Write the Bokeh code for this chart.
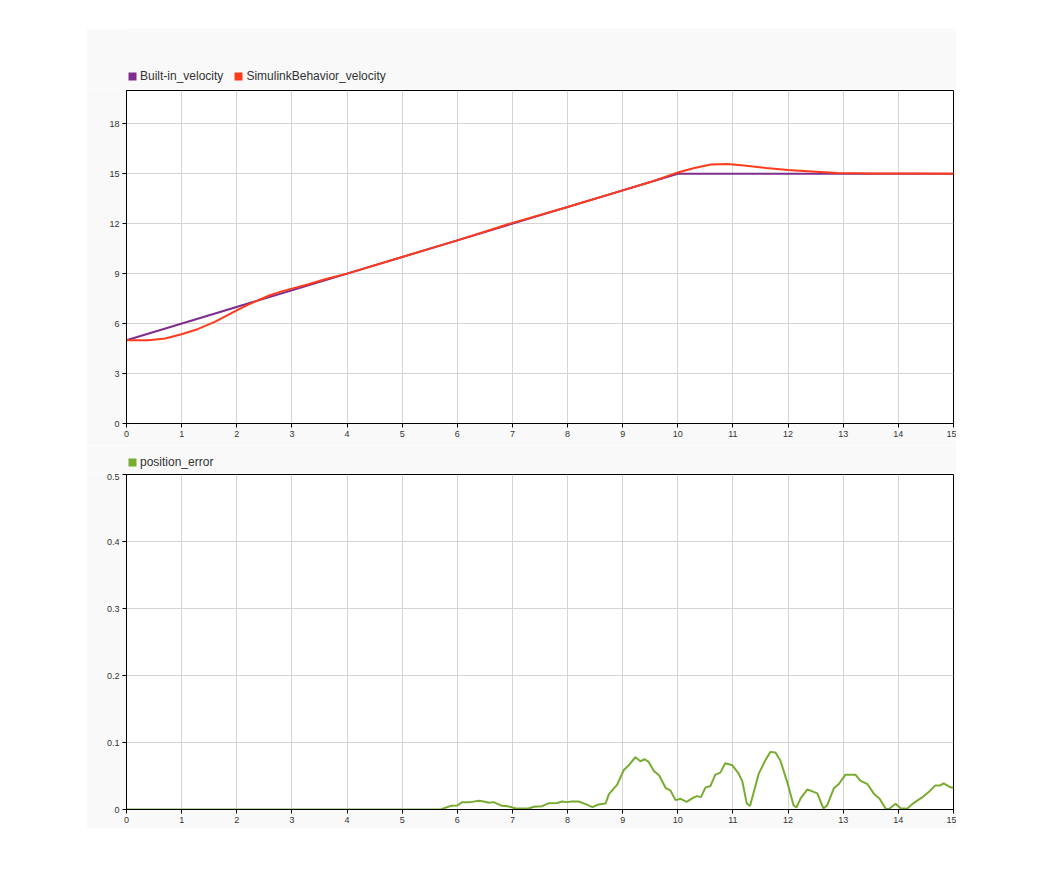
from bokeh.plotting import figure
from bokeh.models import Range1d, FixedTicker, Legend, LegendItem
from bokeh.layouts import column
from bokeh.embed import file_html
from bokeh.resources import INLINE

# ---------------- data ----------------
t_builtin = [0, 10, 15]
v_builtin = [5, 15, 15]

t_sim = [0, 0.4, 0.7, 1.0, 1.3, 1.6, 1.8, 2.0, 2.2, 2.4, 2.6, 2.8, 3.0, 3.3, 3.6, 4.0, 5, 6, 7, 8, 9,
         9.5, 10.0, 10.3, 10.6, 10.9, 11.2, 11.6, 12.0, 12.5, 12.9, 13.5, 14.3, 15]
v_sim = [5.0, 5.0, 5.1, 5.36, 5.68, 6.1, 6.45, 6.8, 7.12, 7.42, 7.7, 7.92, 8.1, 8.36, 8.66, 9.0,
         10, 11, 12.05, 13, 14,
         14.5, 15.08, 15.35, 15.55, 15.58, 15.5, 15.35, 15.22, 15.12, 15.04, 15.02, 15.01, 15.0]

t_err = [0, 5.70, 5.88, 6.0, 6.09, 6.24, 6.39, 6.48, 6.57, 6.66, 6.81, 6.91, 7.06, 7.29, 7.39,
         7.54, 7.66, 7.81, 7.90, 7.99, 8.08, 8.2, 8.33, 8.45, 8.56, 8.69, 8.75, 8.90, 9.02,
         9.11, 9.23, 9.32, 9.4, 9.47, 9.57, 9.66, 9.78, 9.86, 9.96, 10.05, 10.16, 10.29,
         10.35, 10.42, 10.50, 10.59, 10.68, 10.77, 10.86, 10.99, 11.1, 11.17, 11.25, 11.31,
         11.38, 11.47, 11.59, 11.68, 11.77, 11.86, 11.98, 12.1, 12.15, 12.23, 12.35, 12.44,
         12.53, 12.64, 12.71, 12.83, 12.92, 13.04, 13.22, 13.31, 13.44, 13.56, 13.66, 13.77,
         13.83, 13.95, 14.04, 14.16, 14.25, 14.43, 14.55, 14.67, 14.76, 14.82, 14.95, 15.0]
e_err = [0, 0, 0.0055, 0.006, 0.011, 0.011, 0.013, 0.012, 0.010, 0.011, 0.0055, 0.005, 0.0015,
         0.0015, 0.004, 0.005, 0.0095, 0.0098, 0.012, 0.011, 0.012, 0.012, 0.008, 0.0035,
         0.0075, 0.009, 0.023, 0.037, 0.059, 0.066, 0.078, 0.072, 0.075, 0.071, 0.057, 0.051,
         0.032, 0.029, 0.014, 0.016, 0.0115, 0.018, 0.020, 0.0185, 0.0326, 0.035, 0.052,
         0.055, 0.069, 0.066, 0.054, 0.042, 0.009, 0.0055, 0.027, 0.054, 0.074, 0.086, 0.085,
         0.073, 0.042, 0.006, 0.003, 0.017, 0.030, 0.027, 0.024, 0.0015, 0.0065, 0.0316,
         0.038, 0.052, 0.052, 0.043, 0.038, 0.023, 0.016, 0.001, 0.0008, 0.0085, 0.002,
         0.001, 0.008, 0.018, 0.026, 0.036, 0.036, 0.039, 0.033, 0.033]

x_ticks = list(range(0, 16))
y_ticks_top = [0, 3, 6, 9, 12, 15, 18]
y_ticks_bottom = [0, 0.1, 0.2, 0.3, 0.4, 0.5]

top_labels = ["Built-in_velocity", "SimulinkBehavior_velocity"]
bottom_labels = ["position_error"]

PURPLE = "#7E2F8E"
RED = "#FF3B1C"
GREEN = "#77AC30"
PANEL = "#f9f9f9"
FONT = "Liberation Sans"
W = 870


def style(p, yticks):
    p.xaxis.ticker = FixedTicker(ticks=x_ticks)
    p.yaxis.ticker = FixedTicker(ticks=yticks)
    for ax in (p.xaxis[0], p.yaxis[0]):
        ax.axis_line_color = "black"
        ax.axis_line_width = 1
        ax.major_tick_out = 4
        ax.major_tick_in = 0
        ax.major_tick_line_color = "black"
        ax.minor_tick_out = 0
        ax.minor_tick_in = 0
        ax.major_label_text_font = FONT
        ax.major_label_text_font_size = "9px"
        ax.major_label_text_color = "#333333"
        ax.major_label_standoff = 3
    p.grid.grid_line_color = "#d4d4d4"
    p.grid.grid_line_width = 1
    p.outline_line_color = "black"
    p.outline_line_width = 1
    p.outline_line_alpha = 1
    p.background_fill_color = "white"
    p.border_fill_color = PANEL


def legend_strip(labels, colors, height, ly):
    f = figure(width=W, height=height, output_backend="svg", toolbar_location=None,
               x_range=Range1d(0, 1), y_range=Range1d(0, 1),
               x_axis_location=None, y_axis_location=None,
               min_border=0)
    f.grid.visible = False
    f.outline_line_color = None
    f.background_fill_color = PANEL
    f.border_fill_color = PANEL
    items = []
    nan = float("nan")
    for label, color in zip(labels, colors):
        r = f.quad(left=[nan], right=[nan], bottom=[nan], top=[nan],
                   fill_color=color, line_color=None)
        items.append(LegendItem(label=label, renderers=[r]))
    leg = Legend(items=items, orientation="horizontal", location=(1, ly),
                 border_line_color=None, background_fill_alpha=0,
                 label_text_font=FONT, label_text_font_size="12px",
                 label_text_color="#333333", glyph_width=10, glyph_height=10,
                 label_standoff=3, spacing=10, padding=0, margin=0,
                 label_height=12)
    f.add_layout(leg)
    return f


# ---------------- top ----------------
leg1 = legend_strip(top_labels, [PURPLE, RED], 61, 6)
leg1.margin = (28, 0, 0, 86)

p1 = figure(width=W, height=356, output_backend="svg", toolbar_location=None,
            x_range=Range1d(0, 15), y_range=Range1d(0, 20),
            min_border_left=40, min_border_right=3, min_border_top=1, min_border_bottom=22)
style(p1, y_ticks_top)
p1.line(t_builtin, v_builtin, line_color=PURPLE, line_width=2)
p1.line(t_sim, v_sim, line_color=RED, line_width=2)
p1.margin = (0, 0, 0, 86)

# ---------------- bottom ----------------
leg2 = legend_strip(bottom_labels, [GREEN], 28, 4)
leg2.margin = (0, 0, 0, 86)

p2 = figure(width=W, height=355, output_backend="svg", toolbar_location=None,
            x_range=Range1d(0, 15), y_range=Range1d(0, 0.5),
            min_border_left=40, min_border_right=3, min_border_top=1, min_border_bottom=19)
style(p2, y_ticks_bottom)
p2.yaxis.major_label_overrides = {0: "0"}
p2.line(t_err, e_err, line_color=GREEN, line_width=2)
p2.margin = (0, 0, 0, 86)

layout = column(leg1, p1, leg2, p2, spacing=0)
open("out.html", "w").write(file_html(layout, INLINE))
